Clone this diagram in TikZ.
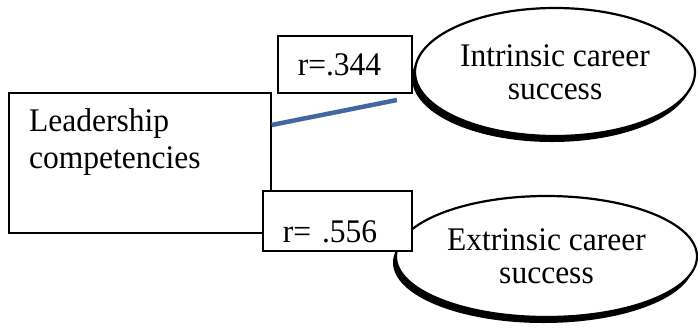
\documentclass[tikz,border=0pt]{standalone}
\usepackage{fontspec}
\setmainfont{Liberation Serif}[FakeStretch=0.955]
\usetikzlibrary{shapes.geometric,shadows,calc}
\definecolor{linkblue}{RGB}{65,105,160}
\begin{document}
\begin{tikzpicture}[x=1pt,y=-1pt,
  txt/.style={font=\fontsize{33}{33}\selectfont},
  oval/.style={ellipse, draw=black, line width=2.2pt, fill=white, inner sep=0pt, align=center, txt,
    drop shadow={fill=black, opacity=1, shadow xshift=-3pt, shadow yshift=-6pt}},
  box/.style={rectangle, draw=black, line width=1.6pt, fill=white, inner sep=0pt},
  rbox/.style={box, anchor=north west, inner xsep=20pt, align=left, txt, text depth=0pt},
  link/.style={draw=linkblue, line width=4.5pt}]
\useasboundingbox (0,0) rectangle (698,330);
\fill[white] (0,0) rectangle (698,330);
\node[oval, minimum width=280pt, minimum height=128pt] (intr) at (555,72) {Intrinsic career\\success};
\node[oval, minimum width=301pt, minimum height=121pt] (extr) at (546.5,256.5) {Extrinsic career\\success};
\node[box, anchor=north west, minimum width=262pt, minimum height=140pt] (lead) at (8,92) {};
\node[anchor=north west, inner sep=0pt, align=left, font=\fontsize{33}{37}\selectfont] (leadtxt) at ($(lead.north west)+(21,16.5)$) {Leadership\\competencies};
\node[rbox, text width=94pt, minimum height=57pt, text height=22.3pt] (r1) at (277,35) {r=.344};
\node[rbox, text width=109pt, minimum height=60pt, text height=43.4pt] (r2) at (262,190) {r= .556};
\draw[link] ($(lead.north east)+(0,33)$) -- ($(intr.west)+(-17,28)$);
\end{tikzpicture}
\end{document}
